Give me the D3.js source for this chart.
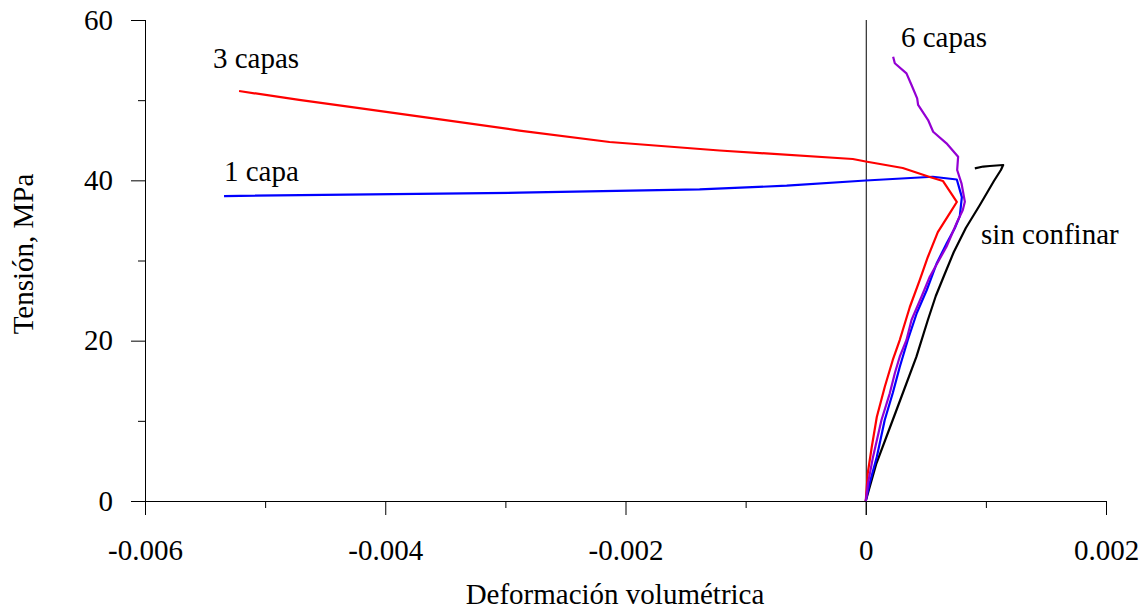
<!DOCTYPE html>
<html>
<head>
<meta charset="utf-8">
<script src="https://cdn.jsdelivr.net/npm/d3@7/dist/d3.min.js"></script>
<style>
  html, body { margin: 0; padding: 0; background: #fff; }
  svg text { font-family: "Liberation Serif", "Times New Roman", serif; fill: #000; }
</style>
</head>
<body>
<svg id="chart" width="1147" height="613"></svg>
<script>
// Volumetric strain (x) vs. stress in MPa (y) for each confinement case
const unconfinedStrain = [0, 0.000089, 0.000256, 0.000422, 0.000517, 0.000583, 0.000654, 0.000733, 0.000833, 0.00095, 0.001067, 0.001125, 0.001144, 0.001033, 0.000978, 0.000908];
const unconfinedStress = [0, 4.70, 11.35, 18.00, 22.58, 25.57, 28.19, 31.06, 34.05, 36.92, 39.92, 41.29, 41.91, 41.79, 41.72, 41.50];

const oneLayerStrain = [0, 0.000033, 0.000092, 0.000158, 0.000225, 0.000283, 0.00035, 0.000425, 0.000508, 0.000592, 0.000675, 0.000742, 0.000783, 0.0008, 0.000758, 0.000558, 0, -0.000658, -0.001383, -0.002883, -0.005342];
const oneLayerStress = [0, 2.25, 5.49, 10.10, 13.47, 16.71, 20.08, 23.45, 26.32, 29.69, 32.18, 34.05, 35.55, 37.90, 40.10, 40.45, 39.98, 39.33, 38.88, 38.46, 38.04];

const threeLayerStrain = [0, 0.000017, 0.00005, 0.000092, 0.000158, 0.000225, 0.000283, 0.000367, 0.00045, 0.000517, 0.0006, 0.0007, 0.000758, 0.000642, 0.000533, 0.000308, 0, -0.000108, -0.001217, -0.002133, -0.002883, -0.003633, -0.004217, -0.004717, -0.005217];
const threeLayerStress = [0, 3.49, 6.74, 10.48, 14.22, 17.59, 20.08, 24.20, 27.57, 30.44, 33.55, 35.92, 37.30, 39.92, 40.42, 41.54, 42.35, 42.66, 43.72, 44.78, 46.21, 47.80, 49.00, 50.04, 51.14];

const sixLayerStrain = [0, 0.000019, 0.000061, 0.000131, 0.0002, 0.000242, 0.000283, 0.000339, 0.000381, 0.000464, 0.000533, 0.000672, 0.000756, 0.000808, 0.000825, 0.000797, 0.000761, 0.000769, 0.000672, 0.000561, 0.000519, 0.000436, 0.000428, 0.000381, 0.000339, 0.000242, 0.000228];
const sixLayerStress = [0, 2.21, 5.53, 10.10, 13.43, 15.93, 18.00, 20.08, 22.58, 25.48, 27.98, 31.72, 34.64, 36.30, 37.33, 39.63, 41.29, 42.95, 44.62, 46.06, 47.52, 49.40, 50.23, 51.89, 53.35, 54.60, 55.42];

const xTicks = [-0.006, -0.004, -0.002, 0, 0.002];
const xMinorTicks = [-0.005, -0.003, -0.001, 0.001];
const yTicks = [0, 20, 40, 60];
const yMinorTicks = [10, 30, 50];

const seriesLabels = ["sin confinar", "1 capa", "3 capas", "6 capas"];
const seriesColors = ["#000000", "#0000ff", "#ff0000", "#9400d3"];

const series = [
  { name: seriesLabels[0], color: seriesColors[0], xs: unconfinedStrain, ys: unconfinedStress },
  { name: seriesLabels[1], color: seriesColors[1], xs: oneLayerStrain, ys: oneLayerStress },
  { name: seriesLabels[2], color: seriesColors[2], xs: threeLayerStrain, ys: threeLayerStress },
  { name: seriesLabels[3], color: seriesColors[3], xs: sixLayerStrain, ys: sixLayerStress }
];

const FONT = 29;
const svg = d3.select("#chart");
const plot = { left: 145, right: 1106, top: 20, bottom: 501 };

const x = d3.scaleLinear().domain([-0.006, 0.002]).range([plot.left, plot.right]);
const y = d3.scaleLinear().domain([0, 60]).range([plot.bottom, plot.top]);

const fmtX = d => d === 0 ? "0" : d3.format(".3f")(d).replace("−", "-");

// X axis: major ticks with labels, minor ticks without
const xAxis = svg.append("g").attr("transform", `translate(0,${plot.bottom})`)
  .call(d3.axisBottom(x).tickValues(xTicks).tickSize(14).tickPadding(24).tickFormat(fmtX).tickSizeOuter(0));
xAxis.select(".domain").attr("stroke", "#000").attr("d", `M${plot.left - 14},0.5H${plot.right}`);
xAxis.selectAll(".tick text").attr("font-size", FONT);
svg.append("g").attr("transform", `translate(0,${plot.bottom})`)
  .call(d3.axisBottom(x).tickValues(xMinorTicks).tickSize(7).tickFormat(""))
  .select(".domain").remove();

// Y axis
const yAxis = svg.append("g").attr("transform", `translate(${plot.left},0)`)
  .call(d3.axisLeft(y).tickValues(yTicks).tickSize(14).tickPadding(18).tickSizeOuter(0));
yAxis.select(".domain").attr("stroke", "#000").attr("d", `M0.5,${plot.top}V${plot.bottom + 14}`);
yAxis.selectAll(".tick text").attr("font-size", FONT);
svg.append("g").attr("transform", `translate(${plot.left},0)`)
  .call(d3.axisLeft(y).tickValues(yMinorTicks).tickSize(7).tickFormat(""))
  .select(".domain").remove();

svg.selectAll(".tick line").attr("stroke", "#000");

// Vertical reference line at zero strain
svg.append("line")
  .attr("x1", x(0) + 0.5).attr("x2", x(0) + 0.5)
  .attr("y1", plot.top).attr("y2", plot.bottom + 14)
  .attr("stroke", "#000").attr("stroke-width", 1);

// Curves
const line = d3.line().x(d => x(d[0])).y(d => y(d[1]));
svg.append("g").selectAll("path").data(series).join("path")
  .attr("d", s => line(s.xs.map((v, i) => [v, s.ys[i]])))
  .attr("fill", "none")
  .attr("stroke", s => s.color)
  .attr("stroke-width", 2.2)
  .attr("stroke-linejoin", "round");

// Curve labels
const labelPos = [
  { text: seriesLabels[0], x: 981, y: 244 },
  { text: seriesLabels[1], x: 224, y: 181 },
  { text: seriesLabels[2], x: 213, y: 68 },
  { text: seriesLabels[3], x: 901, y: 47 }
];
svg.append("g").selectAll("text").data(labelPos).join("text")
  .attr("x", d => d.x).attr("y", d => d.y)
  .attr("font-size", FONT)
  .text(d => d.text);

// Axis titles
svg.append("text")
  .attr("x", 615).attr("y", 604)
  .attr("text-anchor", "middle").attr("font-size", FONT)
  .text("Deformación volumétrica");
svg.append("text")
  .attr("transform", `translate(33,254) rotate(-90)`)
  .attr("text-anchor", "middle").attr("font-size", FONT)
  .text("Tensión, MPa");
</script>
</body>
</html>
